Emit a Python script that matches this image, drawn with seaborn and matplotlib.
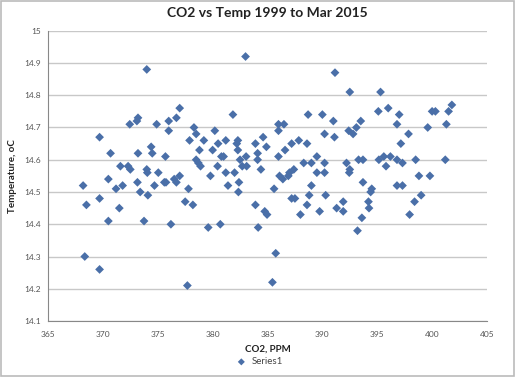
import matplotlib
matplotlib.use("Agg")
import matplotlib.pyplot as plt
import seaborn as sns
import pandas as pd
from matplotlib.patches import Rectangle

# CO2 (ppm) vs monthly temperature (oC)
co2 = [374.0, 369.7, 370.7, 372.45, 373.2, 373.1, 374.9, 376.0, 376.7, 377.0,
       376.0, 373.2, 374.4, 374.5, 375.7, 371.6, 372.3, 372.5, 374.0, 374.05,
       375.05, 368.2, 370.5, 371.2, 371.8, 373.15, 373.4, 374.1, 374.7, 375.6,
       375.75, 376.5, 376.7, 377.0, 368.5, 369.7, 371.5, 370.5, 373.75, 376.2,
       368.35, 369.7, 383.0, 381.85, 378.3, 378.5, 380.2, 377.9, 379.2, 381.2,
       380.5, 382.3, 382.2, 378.8, 380.0, 380.8, 381.0, 382.3, 383.9, 384.6,
       384.9, 384.1, 386.0, 386.5, 386.0, 386.6, 386.0, 378.5, 378.7, 378.9,
       380.45, 382.5, 383.05, 382.7, 383.1, 384.1, 384.4, 377.8, 379.8, 381.2,
       382.0, 381.4, 382.4, 382.35, 386.1, 386.4, 386.9, 385.6, 377.5, 378.2,
       379.6, 380.7, 383.9, 384.75, 384.96, 384.15, 385.75, 377.7, 385.45, 391.15,
       392.5, 395.3, 388.7, 390.0, 391.0, 390.2, 391.1, 392.4, 392.8, 393.1,
       393.5, 395.1, 396.0, 396.8, 397.0, 387.2, 387.85, 388.6, 389.5, 388.3,
       389.0, 390.2, 387.4, 392.2, 392.5, 393.3, 393.7, 395.15, 395.6, 396.2,
       396.8, 395.8, 392.45, 389.5, 390.2, 387.0, 389.0, 387.2, 387.5, 388.8,
       390.3, 388.6, 388.0, 389.75, 391.9, 391.3, 391.9, 393.7, 394.5, 394.4,
       394.2, 394.25, 393.6, 393.2, 396.8, 397.85, 397.15, 400.0, 400.3, 399.6,
       401.8, 401.5, 401.3, 397.3, 398.5, 401.2, 398.8, 399.8, 397.3, 399.0,
       398.4, 397.95]
temp = [14.88, 14.67, 14.62, 14.71, 14.73, 14.72, 14.71, 14.72, 14.73, 14.76,
        14.69, 14.62, 14.64, 14.62, 14.61, 14.58, 14.58, 14.57, 14.57, 14.56,
        14.56, 14.52, 14.54, 14.51, 14.52, 14.53, 14.50, 14.49, 14.52, 14.53,
        14.53, 14.54, 14.53, 14.55, 14.46, 14.48, 14.45, 14.41, 14.41, 14.40,
        14.30, 14.26, 14.92, 14.74, 14.70, 14.68, 14.69, 14.66, 14.66, 14.66,
        14.65, 14.66, 14.65, 14.63, 14.63, 14.61, 14.61, 14.63, 14.65, 14.67,
        14.64, 14.62, 14.71, 14.71, 14.69, 14.63, 14.61, 14.60, 14.59, 14.58,
        14.58, 14.60, 14.61, 14.58, 14.58, 14.60, 14.57, 14.51, 14.55, 14.56,
        14.56, 14.52, 14.53, 14.50, 14.55, 14.54, 14.55, 14.51, 14.47, 14.46,
        14.39, 14.40, 14.46, 14.44, 14.43, 14.39, 14.31, 14.21, 14.22, 14.87,
        14.81, 14.81, 14.74, 14.74, 14.72, 14.68, 14.67, 14.69, 14.68, 14.70,
        14.72, 14.75, 14.76, 14.71, 14.74, 14.65, 14.66, 14.65, 14.61, 14.59,
        14.59, 14.59, 14.57, 14.59, 14.57, 14.60, 14.60, 14.60, 14.61, 14.61,
        14.60, 14.58, 14.56, 14.56, 14.56, 14.56, 14.52, 14.48, 14.48, 14.49,
        14.49, 14.46, 14.43, 14.44, 14.47, 14.45, 14.44, 14.53, 14.51, 14.50,
        14.47, 14.45, 14.42, 14.38, 14.52, 14.68, 14.65, 14.75, 14.75, 14.70,
        14.77, 14.75, 14.71, 14.59, 14.60, 14.60, 14.55, 14.55, 14.52, 14.49,
        14.47, 14.43]

x_ticks = [365, 370, 375, 380, 385, 390, 395, 400, 405]
y_ticks = [14.1, 14.2, 14.3, 14.4, 14.5, 14.6, 14.7, 14.8, 14.9, 15.0]
y_labels = ["14.1", "14.2", "14.3", "14.4", "14.5", "14.6", "14.7", "14.8", "14.9", "15"]

df = pd.DataFrame({"co2": co2, "temp": temp})

sns.set_style("white")
plt.rcParams["font.family"] = ["Lato", "DejaVu Sans"]

fig = plt.figure(figsize=(5.15, 3.77), dpi=100)
ax = fig.add_axes([0.0932, 0.1485, 0.8524, 0.770])

sns.scatterplot(data=df, x="co2", y="temp", marker="D", s=20, color="#4A6FA8",
                edgecolor="none", ax=ax, label="Series1", legend=False)

ax.set_xlim(365, 405)
ax.set_ylim(14.1, 15.0)
ax.set_xticks(x_ticks)
ax.set_yticks(y_ticks)
ax.set_yticklabels(y_labels)
ax.tick_params(axis="both", labelsize=6, colors="#555555", length=3,
               direction="out", width=0.8, pad=2)
ax.tick_params(axis="x", pad=4)
ax.yaxis.grid(True, color="#c8c8c8", linewidth=1)
ax.set_axisbelow(True)
for side in ["top", "right"]:
    ax.spines[side].set_visible(False)
for side in ["left", "bottom"]:
    ax.spines[side].set_color("#888888")
    ax.spines[side].set_linewidth(0.8)

ax.set_title("CO2 vs Temp 1999 to Mar 2015", fontsize=10, fontweight="bold",
             color="#222222", pad=10)
ax.set_xlabel("CO2, PPM", fontsize=7, fontweight="bold", color="#222222", labelpad=5)
ax.set_ylabel("Temperature, oC", fontsize=7, fontweight="bold", color="#222222", labelpad=5)

handles, labels = ax.get_legend_handles_labels()
fig.legend(handles, labels, loc="center", bbox_to_anchor=(0.5, 0.04), frameon=False,
           fontsize=7, handletextpad=0.1, markerscale=0.8,
           labelcolor="#444444")

fig.patches.append(Rectangle((0.002, 0.003), 0.996, 0.994, transform=fig.transFigure,
                             fill=False, edgecolor="#bbbbbb", linewidth=1.2))

fig.savefig("out.png", dpi=100)
